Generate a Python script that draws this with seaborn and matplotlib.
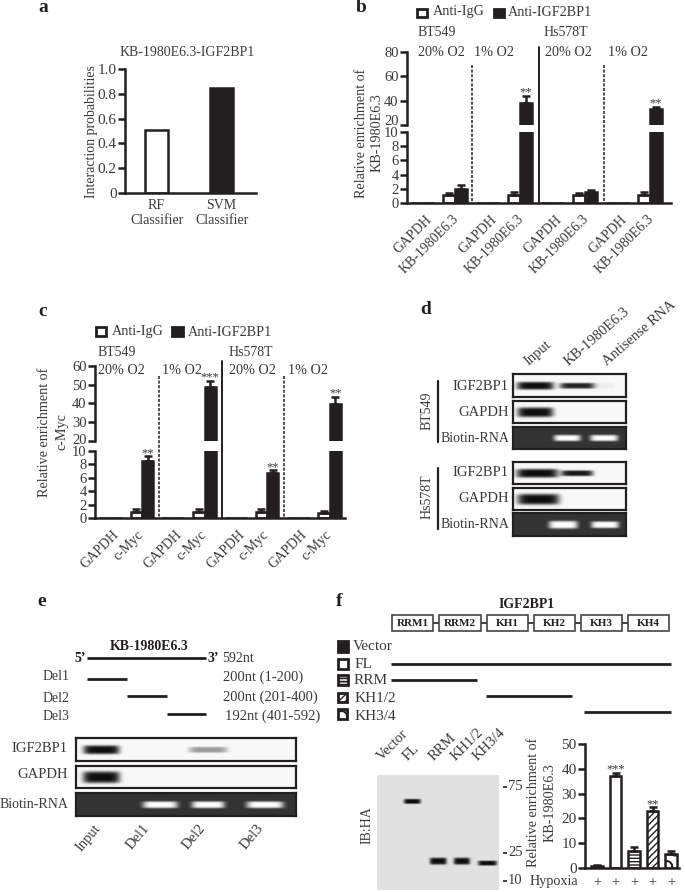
import matplotlib
matplotlib.use("Agg")
import matplotlib.pyplot as plt
import matplotlib.transforms as mtrans
import numpy as np
import pandas as pd
import seaborn as sns
from matplotlib.patches import Rectangle

W, H = 685, 892
INK = "#231f20"
TXT = "#3a3a3a"

# panel a
clf_names = ["RF\nClassifier", "SVM\nClassifier"]
clf_probs = [0.51, 0.85]

# panel b
b_targets = ["GAPDH", "KB-1980E6.3"] * 4
b_igg = [0, 1.1, 0, 1.1, 0, 1.1, 0, 1.1]
b_igg_err = [0, 0.3, 0, 0.4, 0, 0.3, 0, 0.5]
b_igf = [0, 2.0, 0, 38, 0, 1.6, 0, 33]
b_igf_err = [0, 0.5, 0, 6, 0, 0.2, 0, 2]
b_stars = ["", "", "", "**", "", "", "", "**"]

# panel c
c_targets = ["GAPDH", "c-Myc"] * 4
c_igg = [0, 0.9, 0, 0.9, 0, 0.9, 0, 0.7]
c_igg_err = [0, 0.4, 0, 0.4, 0, 0.5, 0, 0.4]
c_igf = [0, 8.5, 0, 49, 0, 6.7, 0, 39.5]
c_igf_err = [0, 0.7, 0, 3, 0, 0.4, 0, 4]
c_stars = ["", "**", "", "***", "", "**", "", "**"]

# panel f
f_names = ["Vector", "FL", "RRM", "KH1/2", "KH3/4"]
f_values = [0.8, 37, 7, 23, 5.5]
f_errs = [0.3, 1.3, 1.3, 1.5, 1.5]
f_stars = ["", "***", "", "**", ""]
f_hypoxia = ["+", "+", "+", "+", "+"]

# band strength per lane
d_lanes = ["Input", "KB-1980E6.3", "Antisense RNA"]
d_igf_bt = [1.0, 0.9, 0.05]
d_gapdh_bt = [1.0, 0, 0]
d_rna_bt = [0, 1.0, 1.0]
d_igf_hs = [1.0, 0.95, 0]
d_gapdh_hs = [1.0, 0, 0]
d_rna_hs = [0, 1.0, 1.0]
e_lanes = ["Input", "Del1", "Del2", "Del3"]
e_igf = [1.0, 0, 0.4, 0]
e_gapdh = [1.0, 0, 0, 0]
e_rna = [0, 1.0, 1.0, 1.0]
f_blot = [0, 1.0, 1.0, 1.0, 1.0]

sns.set_theme(style="ticks", rc={"hatch.linewidth": 1.0})
plt.rcParams["font.family"] = ["Liberation Serif", "DejaVu Serif"]
plt.rcParams["text.color"] = TXT
plt.rcParams["axes.edgecolor"] = INK

fig = plt.figure(figsize=(W / 100, H / 100), dpi=100, facecolor="white")


def px_axes(x0, y0, x1, y1):
    return fig.add_axes([x0 / W, 1 - y1 / H, (x1 - x0) / W, (y1 - y0) / H], facecolor="none")


def nudge(label, dx=0, dy=0):
    label.set_transform(label.get_transform() + mtrans.ScaledTranslation(dx / 100, dy / 100, fig.dpi_scale_trans))


over = fig.add_axes([0, 0, 1, 1], zorder=20, facecolor="none")
over.set_xlim(0, W)
over.set_ylim(H, 0)
over.axis("off")


def txt(x, y, s, size=10, ha="left", va="center", **kw):
    over.text(x, y, s, fontsize=size, ha=ha, va=va, color=kw.pop("color", TXT), **kw)


def hline(x0, x1, y, lw=2):
    over.plot([x0, x1], [y, y], color=INK, lw=lw, solid_capstyle="butt")


def vline(x, y0, y1, lw=1.4, ls="-"):
    over.plot([x, x], [y0, y1], color=INK, lw=lw, ls=ls, dashes=(2, 1) if ls == "--" else (None, None))


def square(x0, y0, x1, y1, face, hatch=None):
    over.add_patch(Rectangle((x0, y0), x1 - x0, y1 - y0, facecolor=face, edgecolor=INK, lw=2, hatch=hatch))


def style_axis(ax, labelsize=10.5):
    sns.despine(ax=ax)
    for side in ("left", "bottom"):
        ax.spines[side].set_linewidth(1.8)
    ax.tick_params(axis="y", length=5, width=1.8, labelsize=labelsize, pad=1, colors=TXT)
    ax.tick_params(axis="y", color=INK)
    ax.set_xlabel("")
    ax.set_ylabel("")


def add_errs(ax, errs):
    # errs per hue container, upper side only
    for cont, err in zip(ax.containers, errs):
        for bar, e in zip(cont, err):
            if e > 0:
                x = bar.get_x() + bar.get_width() / 2
                ax.errorbar(x, bar.get_height(), yerr=[[0], [e]], color=INK, lw=1.8,
                            capsize=3, capthick=1.8, zorder=1)


def add_stars(ax, cont, err, stars):
    for bar, e, s in zip(cont, err, stars):
        if s:
            ax.annotate(s, (bar.get_x() + bar.get_width() / 2, bar.get_height() + e),
                        xytext=(0, -2), textcoords="offset points", ha="center", va="bottom",
                        fontsize=9, color=TXT, annotation_clip=False)


def broken_bars(box, xlim, shifts, targets, igg, igg_err, igf, igf_err, stars, ylims, yticks, lift):
    x0, x1, top, brk_hi, brk_lo, bottom = box
    slots = [f"{i}" for i in range(len(targets))]
    df = pd.DataFrame({
        "slot": slots * 2,
        "value": list(igg) + list(igf),
        "antibody": ["Anti-IgG"] * len(slots) + ["Anti-IGF2BP1"] * len(slots),
    })
    palette = {"Anti-IgG": "white", "Anti-IGF2BP1": INK}
    up = px_axes(x0, top, x1, brk_hi)
    lo = px_axes(x0, brk_lo, x1, bottom)
    for ax, ylim, ticks in ((up, ylims[1], yticks[1]), (lo, ylims[0], yticks[0])):
        sns.barplot(data=df, x="slot", y="value", hue="antibody", order=slots, palette=palette,
                    edgecolor=INK, linewidth=1.8, width=0.72, errorbar=None, legend=False,
                    saturation=1, ax=ax)
        ax.set_xlim(*xlim)
        ax.set_ylim(*ylim)
        ax.set_yticks(ticks)
        style_axis(ax)
        add_errs(ax, [igg_err, igf_err])
    up.spines["bottom"].set_visible(False)
    up.tick_params(axis="x", length=0, labelbottom=False)
    nudge(up.get_yticklabels()[0], dy=lift)
    add_stars(up, up.containers[1], igf_err, [s if v > ylims[1][0] else "" for s, v in zip(stars, igf)])
    add_stars(lo, lo.containers[1], igf_err, [s if v <= ylims[0][1] else "" for s, v in zip(stars, igf)])
    lo.set_xticks(range(len(targets)))
    lo.set_xticklabels(targets, rotation=45, ha="right", rotation_mode="anchor", fontsize=10, color=TXT)
    lo.tick_params(axis="x", length=0, pad=7)
    for i, lab in enumerate(lo.get_xticklabels()):
        nudge(lab, dx=shifts[i % 2])
    return up, lo


def draw_gel(box, centers, widths, heights, strengths, dark=False, rows=None, bg=0.97, frame=True):
    x0, y0, x1, y1 = box
    ax = px_axes(x0, y0, x1, y1)
    nx, ny = int((x1 - x0) * 2), int((y1 - y0) * 2)
    xs = np.linspace(x0, x1, nx)
    ys = np.linspace(y0, y1, ny)
    rows = rows if rows is not None else [(y0 + y1) / 2] * len(centers)
    img = np.zeros((ny, nx))
    for cx, cy, bw, bh, s in zip(centers, rows, widths, heights, strengths):
        px = np.exp(-(np.abs(xs - cx) / (bw / 2)) ** 6)
        py = np.exp(-(np.abs(ys - cy) / (bh / 2)) ** 4)
        img += s * np.outer(py, px)
    img = np.clip(img, 0, 1)
    base = 0.2 + 0.8 * img if dark else bg - (bg - 0.05) * img
    sns.heatmap(base, ax=ax, cmap="gray", vmin=0, vmax=1, cbar=False, xticklabels=False, yticklabels=False)
    if frame:
        for sp in ax.spines.values():
            sp.set_visible(True)
            sp.set_linewidth(1.6)
            sp.set_edgecolor(INK)
    return ax


# ---- panel letters
for x, y, s in [(43, 8, "a"), (361, 8, "b"), (43, 311, "c"), (426, 310, "d"), (42, 602, "e"), (339, 601, "f")]:
    txt(x, y, s, size=14, ha="center", weight="bold", color=INK)

# ---- a
ax_a = px_axes(125, 69, 256, 193)
sns.barplot(x=clf_names, y=clf_probs, color="white", edgecolor=INK, linewidth=1.8, width=0.34,
            saturation=1, errorbar=None, ax=ax_a)
ax_a.patches[1].set_facecolor(INK)
ax_a.set_xlim(-0.485, 1.53)
ax_a.set_ylim(0, 1.0)
ax_a.set_yticks([0, 0.2, 0.4, 0.6, 0.8, 1.0], ["0", "0.2", "0.4", "0.6", "0.8", "1.0"])
style_axis(ax_a, 11)
ax_a.tick_params(axis="x", length=0, labelsize=10, labelcolor=TXT, pad=4)
txt(187, 52, "KB-1980E6.3-IGF2BP1", ha="center")
txt(92, 132, "Interaction probabilities", ha="center", rotation=90)

# ---- b
broken_bars((407, 671, 52, 125, 132, 203), (-0.477, 7.65), (3, -3), b_targets, b_igg, b_igg_err, b_igf, b_igf_err,
            b_stars, ((0, 10), (20, 80)), ([0, 2, 4, 6, 8, 10], [20, 40, 60, 80]), 5)
square(417, 9, 427, 17, "white")
txt(433, 12, "Anti-IgG", size=10.2)
square(494, 9, 504, 17, INK)
txt(508, 12, "Anti-IGF2BP1", size=10.2)
txt(418, 32, "BT549")
txt(544, 32, "Hs578T")
for x, s in [(418, "20% O2"), (474, "1% O2"), (545, "20% O2"), (608, "1% O2")]:
    txt(x, 53, s, size=10.2)
vline(472, 65, 203, ls="--", lw=1.1)
vline(539, 47, 203)
vline(604, 65, 203, ls="--", lw=1.1)
txt(362, 133, "Relative enrichment of", ha="center", rotation=90, size=10.2)
txt(377, 133, "KB-1980E6.3", ha="center", rotation=90, size=10.2)

# ---- c
broken_bars((95, 345, 366, 441, 451, 518), (-0.5, 7.49), (2, -5), c_targets, c_igg, c_igg_err, c_igf, c_igf_err,
            c_stars, ((0, 10), (20, 60)), ([0, 2, 4, 6, 8, 10], [20, 30, 40, 50, 60]), 2)
square(96, 327, 106, 336, "white")
txt(112, 332, "Anti-IgG", size=10.2)
square(172, 327, 183, 336, INK)
txt(188, 332, "Anti-IGF2BP1", size=10.2)
txt(98, 352, "BT549")
txt(229, 352, "Hs578T")
for x, s in [(98, "20% O2"), (162, "1% O2"), (229, "20% O2"), (288, "1% O2")]:
    txt(x, 371, s, size=10.2)
vline(159, 376, 518, ls="--", lw=1.1)
vline(222, 361, 518)
vline(284, 376, 518, ls="--", lw=1.1)
txt(45, 432, "Relative enrichment of", ha="center", rotation=90, size=10.2)
txt(62, 432, "c-Myc", ha="center", rotation=90, size=10.2)

# ---- d
for (x, y), s in zip([(530, 368), (571, 368), (609, 368)], d_lanes):
    txt(x, y, s, ha="left", va="bottom", rotation=41, rotation_mode="anchor", size=10.5)
draw_gel((513, 374, 626, 397), [535, 577, 604], [37, 35, 20], [8, 6, 6], d_igf_bt)
draw_gel((513, 401, 626, 423), [535, 577, 604], [36, 30, 20], [10, 6, 6], d_gapdh_bt)
draw_gel((513, 427, 626, 449), [535, 567, 604], [36, 27, 28], [7, 7, 7], d_rna_bt, dark=True)
draw_gel((513, 462, 626, 484), [537, 577, 604], [42, 32, 20], [9, 6, 6], d_igf_hs)
draw_gel((513, 488, 626, 510), [538, 577, 604], [42, 30, 20], [11, 6, 6], d_gapdh_hs)
draw_gel((513, 513, 626, 536), [535, 563, 605], [36, 29, 28], [7, 8, 7], d_rna_hs, dark=True)
for y, s in [(386, "IGF2BP1"), (412, "GAPDH"), (438, "Biotin-RNA"), (473, "IGF2BP1"), (499, "GAPDH"), (524, "Biotin-RNA")]:
    txt(509, y, s, ha="right", size=10.5 if "Bio" not in s else 10)
vline(438, 381, 442, lw=1.6)
vline(438, 468, 529, lw=1.6)
txt(427, 411, "BT549", ha="center", rotation=90)
txt(427, 497, "Hs578T", ha="center", rotation=90)

# ---- e
txt(149, 646, "KB-1980E6.3", ha="center", weight="bold", size=10, color=INK)
txt(86, 659, "5’", ha="right", weight="bold", color=INK)
hline(87, 206, 658)
txt(208, 659, "3’", weight="bold", color=INK)
txt(222, 658, "592nt")
for y_t, x0, x1, y_l, x_r, y_r, s, r in [
    (676, 87, 127, 679, 223, 677, "Del1", "200nt (1-200)"),
    (698, 127, 167, 696, 223, 697, "Del2", "200nt (201-400)"),
    (717, 167, 206, 714, 225, 716, "Del3", "192nt (401-592)"),
]:
    txt(43, y_t, s)
    hline(x0, x1, y_l)
    txt(x_r, y_r, r, size=10.5)
e_x = [101, 160, 208, 265]
draw_gel((76, 738, 296, 761), e_x, [36, 30, 38, 30], [9, 6, 6, 6], e_igf)
draw_gel((76, 766, 296, 788), e_x, [37, 30, 30, 30], [12, 6, 6, 6], e_gapdh)
draw_gel((76, 793, 296, 816), e_x, [32, 35, 33, 37], [7, 7, 7, 7], e_rna, dark=True)
for y, s in [(749, "IGF2BP1"), (775, "GAPDH"), (804, "Biotin-RNA")]:
    txt(68, y, s, ha="right", size=10.5 if "Bio" not in s else 10)
for x, s in zip([98, 147, 203, 261], e_lanes):
    txt(x, 826, s, ha="right", va="center", rotation=50, rotation_mode="anchor", size=10.5)

# ---- f
txt(527, 604, "IGF2BP1", ha="center", weight="bold", color=INK)
hline(392, 669, 623, lw=1.2)
for x0, x1, s in [(392, 433, "RRM1"), (439, 481, "RRM2"), (487, 528, "KH1"), (534, 575, "KH2"), (581, 622, "KH3"), (628, 669, "KH4")]:
    over.add_patch(Rectangle((x0, 615), x1 - x0, 16, facecolor="white", edgecolor="#444444", lw=1.2, zorder=3))
    txt((x0 + x1) / 2, 624, s, ha="center", weight="bold", size=8, color=INK, zorder=4)
f_hatch = {"RRM": "-----", "KH1/2": "/////", "KH3/4": "O"}
square(338, 641, 348, 652, INK)
square(338, 659, 348, 669, "white")
square(338, 675, 348, 685, "#cccccc", f_hatch["RRM"])
square(338, 693, 347, 702, "white", f_hatch["KH1/2"])
square(338, 709, 347, 719, "white", f_hatch["KH3/4"])
for x, y, s in zip([353, 355, 354, 355, 355], [647, 665, 681, 698, 716], f_names):
    txt(x, y, s, size=11)
hline(391, 671, 664)
hline(391, 477, 680)
hline(486, 572, 696)
hline(584, 671, 712)
for x, s in zip([384, 410, 436, 458, 480], f_names):
    txt(x, 763, s, ha="left", va="bottom", rotation=45, rotation_mode="anchor", size=10.5)

draw_gel((377, 775, 499, 890), [400, 412, 438, 462, 488], [17, 17, 17, 17, 19], [4, 5, 7, 7, 5], f_blot,
         rows=[830, 801, 861, 861, 863], bg=0.88, frame=False)
for y, s in [(787, "75"), (853, "25"), (881, "10")]:
    hline(503, 507, y, lw=1.2)
    txt(508, y, s, size=10.5)
txt(367, 825, "IB:HA", ha="center", rotation=90, size=10)

ax_f = px_axes(585, 744, 679, 868)
sns.barplot(x=f_names, y=f_values, color="white", edgecolor=INK, linewidth=1.8, width=0.6, saturation=1,
            errorbar=None, ax=ax_f)
ax_f.patches[0].set_facecolor(INK)
for bar, name in zip(ax_f.patches, f_names):
    if name in f_hatch:
        bar.set_hatch(f_hatch[name])
ax_f.set_xlim(-0.65, 4.43)
ax_f.set_ylim(0, 50)
ax_f.set_yticks([0, 10, 20, 30, 40, 50])
style_axis(ax_f, 11)
add_errs(ax_f, [f_errs])
add_stars(ax_f, ax_f.containers[0], f_errs, f_stars)
ax_f.set_xticks(range(len(f_hypoxia)))
ax_f.set_xticklabels(f_hypoxia, fontsize=10, color=TXT)
ax_f.tick_params(axis="x", length=0, pad=6)
txt(530, 882, "Hypoxia", size=10.2)
txt(534, 802, "Relative enrichment of", ha="center", rotation=90, size=10.2)
txt(550, 803, "KB-1980E6.3", ha="center", rotation=90, size=10.2)

fig.savefig("out.png", dpi=100)
